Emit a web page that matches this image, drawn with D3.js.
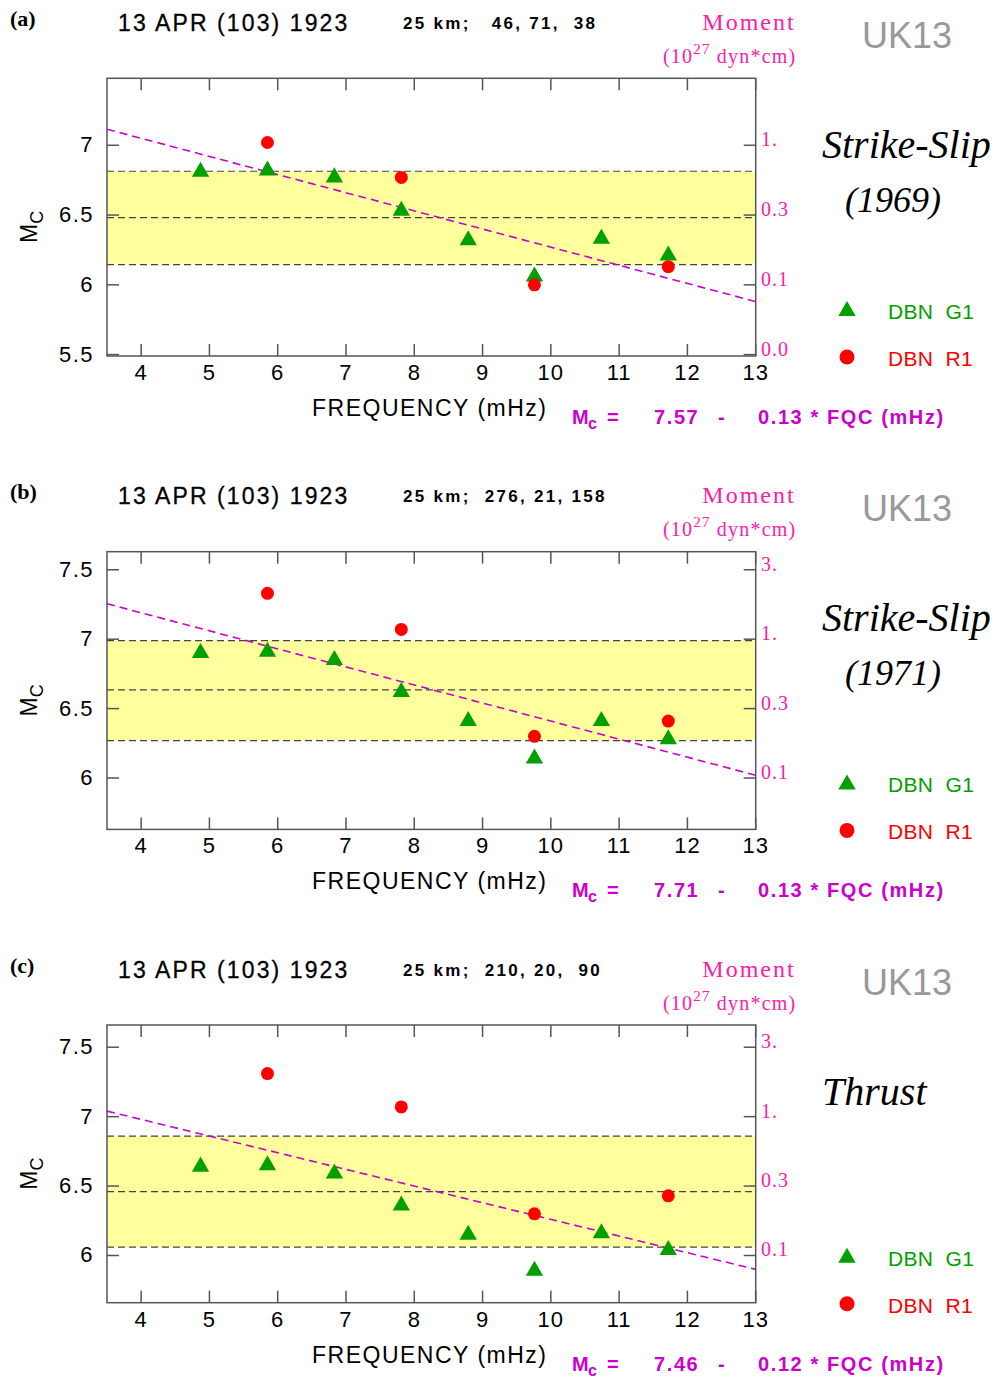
<!DOCTYPE html>
<html>
<head>
<meta charset="utf-8">
<script src="https://cdn.jsdelivr.net/npm/d3@7"></script>
<style>
  body { margin: 0; background: #fff; }
  text { white-space: pre; }
</style>
</head>
<body>
<div id="chart"></div>
<script>
// frequencies (mHz) of the measurements
const freqs = [4.87, 5.85, 6.83, 7.81, 8.79, 9.76, 10.74, 11.72];
const rFreqs = [5.85, 7.81, 9.76, 11.72];
const xTicks = [4, 5, 6, 7, 8, 9, 10, 11, 12, 13];

// Mc values per panel
const g1A = [6.81, 6.82, 6.77, 6.53, 6.32, 6.06, 6.33, 6.21];
const r1A = [7.02, 6.77, 6.00, 6.13];
const g1B = [6.90, 6.91, 6.85, 6.62, 6.41, 6.14, 6.41, 6.28];
const r1B = [7.33, 7.07, 6.30, 6.41];
const g1C = [6.64, 6.65, 6.59, 6.36, 6.15, 5.89, 6.16, 6.04];
const r1C = [7.31, 7.07, 6.30, 6.43];

// band: lower, mean, upper
const bandA = [6.145, 6.482, 6.814];
const bandB = [6.27, 6.635, 6.99];
const bandC = [6.06, 6.46, 6.86];

// fit Mc = a - b * f
const fitA = [7.57, 0.13];
const fitB = [7.71, 0.13];
const fitC = [7.46, 0.12];

const yDomA = [5.49, 7.48], yDomB = [5.63, 7.63], yDomC = [5.66, 7.66];
const yTicksA = [5.5, 6, 6.5, 7], yTicksBC = [6, 6.5, 7, 7.5];
const momentA = ['0.0', '0.1', '0.3', '1.'], momentBC = ['0.1', '0.3', '1.', '3.'];

const panels = [
  {tag: '(a)', params: '25 km;   46, 71,  38', g1: g1A, r1: r1A, band: bandA, fit: fitA,
   yDom: yDomA, yTicks: yTicksA, moment: momentA, mech: ['Strike-Slip', '(1969)'], oy: 0},
  {tag: '(b)', params: '25 km;  276, 21, 158', g1: g1B, r1: r1B, band: bandB, fit: fitB,
   yDom: yDomB, yTicks: yTicksBC, moment: momentBC, mech: ['Strike-Slip', '(1971)'], oy: 473.4},
  {tag: '(c)', params: '25 km;  210, 20,  90', g1: g1C, r1: r1C, band: bandC, fit: fitC,
   yDom: yDomC, yTicks: yTicksBC, moment: momentBC, mech: ['Thrust'], oy: 946.7}
];

const W = 1000, H = 1381;
const pLeft = 107, pRight = 755.7, pTop = 78.3, pBottom = 356;
const green = '#00a000', red = '#ff0000', pink = '#ff1aa8', purple = '#cc00cc', axisCol = '#555';
const sans = 'Liberation Sans, Arial, sans-serif', serif = 'Liberation Serif, Times New Roman, serif';

const svg = d3.select('#chart').append('svg')
  .attr('width', W).attr('height', H)
  .style('background', '#fff');

const x = d3.scaleLinear([3.5, 13], [pLeft, pRight]);

panels.forEach((p, i) => {
  const g = svg.append('g').attr('transform', `translate(0,${p.oy})`);
  const y = d3.scaleLinear(p.yDom, [pBottom, pTop]);

  // header
  g.append('text').attr('x', 10).attr('y', 26).text(p.tag)
    .style('font-family', serif).style('font-weight', 'bold').style('font-size', '22px');
  g.append('text').attr('x', 118).attr('y', 31).text('13 APR (103) 1923')
    .style('font-family', sans).style('font-size', '23px').style('letter-spacing', '2.1px')
    .style('stroke', '#000').style('stroke-width', 0.3);
  g.append('text').attr('x', 403).attr('y', 29).text(p.params)
    .style('font-family', sans).style('font-weight', 'bold').style('font-size', '17px')
    .style('letter-spacing', '2.3px');
  g.append('text').attr('x', 749).attr('y', 30).attr('text-anchor', 'middle').text('Moment')
    .style('font-family', serif).style('font-size', '24px').style('fill', pink).style('letter-spacing', '2px');
  const mu = g.append('text').attr('x', 663).attr('y', 63)
    .style('font-family', serif).style('font-size', '20px').style('fill', pink).style('letter-spacing', '1.2px');
  mu.append('tspan').text('(10');
  mu.append('tspan').attr('dy', -9).style('font-size', '15px').text('27');
  mu.append('tspan').attr('dy', 9).text(' dyn*cm)');
  g.append('text').attr('x', 862).attr('y', 48).text('UK13')
    .style('font-family', sans).style('font-size', '36px').style('fill', '#999');

  // mechanism label
  g.append('text').attr('x', 822).attr('y', 158).text(p.mech[0])
    .style('font-family', serif).style('font-style', 'italic').style('font-size', '40px');
  if (p.mech[1]) {
    g.append('text').attr('x', 845).attr('y', 212).text(p.mech[1])
      .style('font-family', serif).style('font-style', 'italic').style('font-size', '36px');
  }

  // clip
  g.append('clipPath').attr('id', 'clip' + i)
    .append('rect').attr('x', pLeft).attr('y', pTop).attr('width', pRight - pLeft).attr('height', pBottom - pTop);
  const plot = g.append('g').attr('clip-path', `url(#clip${i})`);

  // yellow band
  plot.append('rect')
    .attr('x', pLeft).attr('width', pRight - pLeft)
    .attr('y', y(p.band[2])).attr('height', y(p.band[0]) - y(p.band[2]))
    .style('fill', '#ffff9e');
  plot.selectAll('line.band').data(p.band).join('line')
    .classed('band', true)
    .attr('x1', pLeft).attr('x2', pRight)
    .attr('y1', d => y(d)).attr('y2', d => y(d))
    .style('stroke', '#444').style('stroke-width', 1.2).style('stroke-dasharray', '7,4');

  // fit line
  plot.append('line')
    .attr('x1', x(3.5)).attr('y1', y(p.fit[0] - p.fit[1] * 3.5))
    .attr('x2', x(13)).attr('y2', y(p.fit[0] - p.fit[1] * 13))
    .style('stroke', purple).style('stroke-width', 1.6).style('stroke-dasharray', '8,5');

  // frame
  g.append('rect').attr('x', pLeft).attr('y', pTop).attr('width', pRight - pLeft).attr('height', pBottom - pTop)
    .style('fill', 'none').style('stroke', axisCol).style('stroke-width', 1.5);

  // ticks
  const tl = 12;
  g.selectAll('line.xt').data(xTicks.flatMap(t => [[t, pTop, pTop + tl], [t, pBottom, pBottom - tl]])).join('line')
    .classed('xt', true)
    .attr('x1', d => x(d[0])).attr('x2', d => x(d[0]))
    .attr('y1', d => d[1]).attr('y2', d => d[2])
    .style('stroke', axisCol).style('stroke-width', 1.5);
  g.selectAll('line.yt').data(p.yTicks.flatMap(t => [[t, pLeft, pLeft + tl], [t, pRight, pRight - tl]])).join('line')
    .classed('yt', true)
    .attr('y1', d => y(d[0])).attr('y2', d => y(d[0]))
    .attr('x1', d => d[1]).attr('x2', d => d[2])
    .style('stroke', axisCol).style('stroke-width', 1.5);

  // tick labels
  g.selectAll('text.xl').data(xTicks).join('text')
    .classed('xl', true)
    .attr('x', d => x(d)).attr('y', 380).attr('text-anchor', 'middle')
    .text(d => d)
    .style('font-family', sans).style('font-size', '22px').style('letter-spacing', '1px');
  g.selectAll('text.yl').data(p.yTicks).join('text')
    .classed('yl', true)
    .attr('x', 94).attr('y', d => y(d) + 7).attr('text-anchor', 'end')
    .text(d => d)
    .style('font-family', sans).style('font-size', '22px').style('letter-spacing', '1.5px');
  g.selectAll('text.ml').data(p.yTicks).join('text')
    .classed('ml', true)
    .attr('x', 761).attr('y', d => y(d) + 1)
    .text((d, j) => p.moment[j])
    .style('font-family', serif).style('font-size', '20px').style('fill', pink).style('letter-spacing', '1px');

  // axis titles
  g.append('text').attr('x', 312).attr('y', 416).text('FREQUENCY (mHz)')
    .style('font-family', sans).style('font-size', '23px').style('letter-spacing', '1.5px');
  const yl = g.append('text').attr('transform', 'translate(37,243) rotate(-90)')
    .style('font-family', sans).style('font-size', '23px');
  yl.append('tspan').text('M');
  yl.append('tspan').attr('dy', 6).style('font-size', '18px').text('C');

  // points
  g.selectAll('path.g1').data(p.g1).join('path')
    .classed('g1', true)
    .attr('d', d3.symbol(d3.symbolTriangle).size(130))
    .attr('transform', (d, j) => `translate(${x(freqs[j])},${y(d)})`)
    .style('fill', green);
  g.selectAll('circle.r1').data(p.r1).join('circle')
    .classed('r1', true)
    .attr('cx', (d, j) => x(rFreqs[j])).attr('cy', d => y(d)).attr('r', 6.5)
    .style('fill', red);

  // legend
  g.append('path').attr('d', d3.symbol(d3.symbolTriangle).size(130))
    .attr('transform', 'translate(847,311)').style('fill', green);
  g.append('text').attr('x', 888).attr('y', 319).text('DBN  G1')
    .style('font-family', sans).style('font-size', '21px').style('fill', green).style('letter-spacing', '0.3px');
  g.append('circle').attr('cx', 847).attr('cy', 357).attr('r', 7.5).style('fill', red);
  g.append('text').attr('x', 888).attr('y', 366).text('DBN  R1')
    .style('font-family', sans).style('font-size', '21px').style('fill', red).style('letter-spacing', '0.3px');

  // equation
  const eq = g.append('g').style('font-family', sans).style('font-weight', 'bold')
    .style('font-size', '20px').style('fill', purple).style('letter-spacing', '1.6px');
  eq.append('text').attr('x', 572).attr('y', 424).text('M');
  eq.append('text').attr('x', 588).attr('y', 429).style('font-size', '16px').text('c');
  eq.append('text').attr('x', 607).attr('y', 424).text('=');
  eq.append('text').attr('x', 654).attr('y', 424).text(p.fit[0].toFixed(2));
  eq.append('text').attr('x', 718).attr('y', 424).text('-');
  eq.append('text').attr('x', 758).attr('y', 424).text(`${p.fit[1].toFixed(2)} * FQC (mHz)`);
});
</script>
</body>
</html>
